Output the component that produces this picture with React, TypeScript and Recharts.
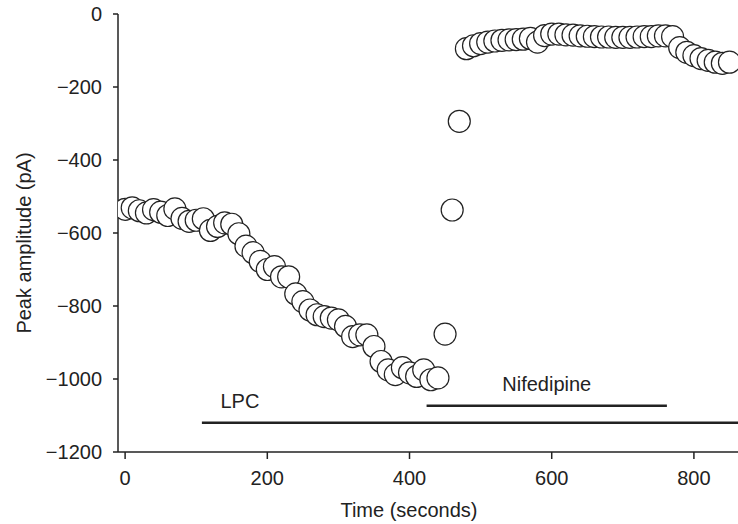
import { ScatterChart, Scatter, XAxis, YAxis, ReferenceLine } from "recharts";

const FONT = '"Liberation Sans", Arial, Helvetica, sans-serif';
const INK = "#222";

// sample times (s) and peak amplitudes (pA)
const times = [
  0, 10, 20, 30, 40, 50, 60, 70, 80, 90, 100, 110, 120, 130, 140, 150, 160,
  170, 180, 190, 200, 210, 220, 230, 240, 250, 260, 270, 280, 290, 300, 310,
  320, 330, 340, 350, 360, 370, 380, 390, 400, 410, 420, 430, 440, 450, 460,
  470, 480, 490, 500, 510, 520, 530, 540, 550, 560, 570, 580, 590, 600, 610,
  620, 630, 640, 650, 660, 670, 680, 690, 700, 710, 720, 730, 740, 750, 760,
  770, 780, 790, 800, 810, 820, 830, 840, 850,
];
const amplitudes = [
  -535, -531, -539, -545, -536, -543, -552, -534, -560, -568, -565, -561,
  -593, -582, -572, -576, -602, -636, -654, -678, -700, -692, -720, -720,
  -767, -788, -811, -824, -829, -833, -838, -856, -884, -879, -879, -911,
  -952, -975, -988, -969, -983, -993, -975, -1002, -997, -877, -537, -294,
  -95, -87, -81, -77, -74, -72, -71, -70, -69, -67, -77, -59, -55, -55, -57,
  -58, -60, -61, -62, -63, -63, -64, -64, -64, -63, -62, -62, -60, -60, -62,
  -92, -105, -114, -122, -127, -132, -135, -132,
];

const xTicks = [0, 200, 400, 600, 800];
const yTicks = [0, -200, -400, -600, -800, -1000, -1200];

// treatment bars: [start, end] in seconds, drawn at a fixed amplitude
const lpcSpan = [108, 862];
const lpcLevel = -1120;
const nifedipineSpan = [424, 762];
const nifedipineLevel = -1073;

const points = times.map((t, i) => ({ t, amp: amplitudes[i] }));

const fmtY = (v: number) => (v < 0 ? `\u2212${-v}` : `${v}`);

const OpenCircle = (props: any) => {
  const { cx, cy } = props;
  if (cx == null || cy == null) return null;
  return <circle cx={cx} cy={cy} r={11} fill="#fff" stroke={INK} strokeWidth={1.2} />;
};

const textStyle = { fontFamily: FONT, fontSize: 20, fill: INK };

export default function App() {
  return (
    <div style={{ width: 738, height: 524, background: "#fff" }}>
      <style>{`body{margin:0}`}</style>
      <ScatterChart
        width={738}
        height={524}
        margin={{ top: 14, right: 0, bottom: 0, left: 0 }}
      >
        <XAxis
          type="number"
          dataKey="t"
          domain={[-10, 862]}
          ticks={xTicks}
          allowDataOverflow
          height={72}
          tickSize={7}
          tickMargin={12}
          stroke={INK}
          strokeWidth={1.5}
          tick={textStyle}
          label={{
            content: () => (
              <text x={409} y={510} textAnchor="middle" dominantBaseline="central" {...textStyle}>
                Time (seconds)
              </text>
            ),
          }}
        />
        <YAxis
          type="number"
          dataKey="amp"
          domain={[-1200, 0]}
          ticks={yTicks}
          allowDataOverflow
          width={118}
          tickSize={5}
          tickMargin={11}
          stroke={INK}
          strokeWidth={1.5}
          tick={textStyle}
          tickFormatter={fmtY}
          label={{
            content: () => (
              <text
                x={24}
                y={243}
                transform="rotate(-90 24 243)"
                textAnchor="middle"
                dominantBaseline="central"
                {...textStyle}
              >
                Peak amplitude (pA)
              </text>
            ),
          }}
        />
        <ReferenceLine
          segment={[
            { x: lpcSpan[0], y: lpcLevel },
            { x: lpcSpan[1], y: lpcLevel },
          ]}
          stroke={INK}
          strokeWidth={2.5}
          ifOverflow="visible"
          label={{
            content: (p: any) => {
              const vb = p.viewBox || { x: 0, y: 0 };
              return (
                <text x={vb.x + 38} y={vb.y - 22} textAnchor="middle" dominantBaseline="central" {...textStyle}>
                  LPC
                </text>
              );
            },
          }}
        />
        <ReferenceLine
          segment={[
            { x: nifedipineSpan[0], y: nifedipineLevel },
            { x: nifedipineSpan[1], y: nifedipineLevel },
          ]}
          stroke={INK}
          strokeWidth={2.5}
          ifOverflow="visible"
          label={{
            content: (p: any) => {
              const vb = p.viewBox || { x: 0, y: 0, width: 0 };
              return (
                <text
                  x={vb.x + (vb.width || 0) / 2}
                  y={vb.y - 22}
                  textAnchor="middle"
                  dominantBaseline="central"
                  {...textStyle}
                >
                  Nifedipine
                </text>
              );
            },
          }}
        />
        <Scatter data={points} shape={OpenCircle} isAnimationActive={false} />
      </ScatterChart>
    </div>
  );
}
